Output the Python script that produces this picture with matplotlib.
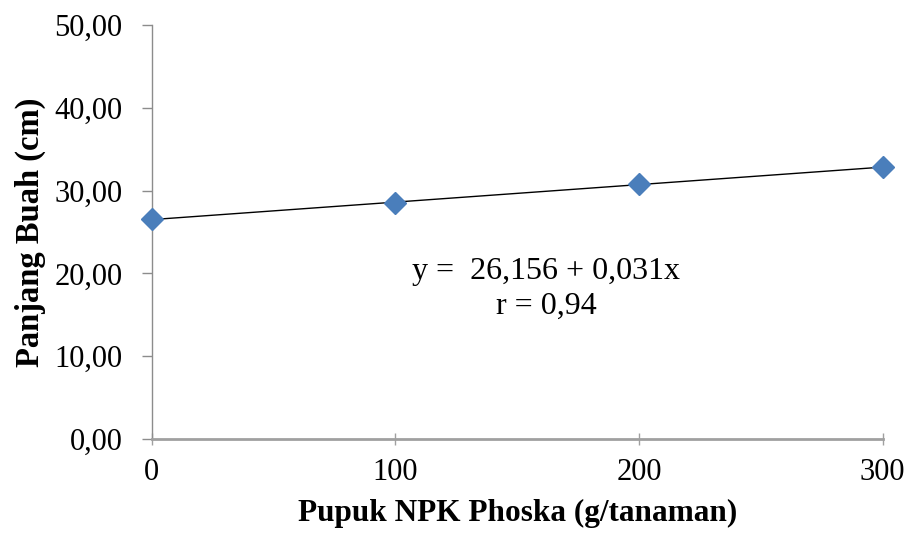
import numpy as np
import matplotlib
matplotlib.use("Agg")
import matplotlib.pyplot as plt
from matplotlib.ticker import FuncFormatter

# data
dosis = [0, 100, 200, 300]
panjang_buah = [26.57, 28.50, 30.80, 32.85]
y_ticks = [0, 10, 20, 30, 40, 50]
x_ticks = [0, 100, 200, 300]
persamaan = "y =  26,156 + 0,031x"
korelasi = "r = 0,94"

plt.rcParams["font.family"] = ["Liberation Serif", "DejaVu Serif"]

fig = plt.figure(figsize=(9.09, 5.36), dpi=100)
ax = fig.add_axes([0.167, 0.181, 0.804, 0.772])

# linear trend (least squares), like the spreadsheet trendline
coef = np.polyfit(dosis, panjang_buah, 1)
xs = np.array([min(dosis), max(dosis)])
ax.plot(xs, np.polyval(coef, xs), color="black", lw=1.0, zorder=2)
ax.plot(dosis, panjang_buah, ls="none", marker="D", ms=11,
        color="#4A7EBB", mec="#4A7EBB", zorder=3, clip_on=False)

ax.set_xlim(0, 300)
ax.set_ylim(0, 50)
ax.set_xticks(x_ticks)
ax.set_yticks(y_ticks)
ax.yaxis.set_major_formatter(FuncFormatter(lambda v, p: f"{v:.2f}".replace(".", ",")))

for s in ["top", "right"]:
    ax.spines[s].set_visible(False)
ax.spines["left"].set_color("#8C8C8C")
ax.spines["left"].set_linewidth(1.0)
ax.spines["bottom"].set_color("#A0A0A0")
ax.spines["bottom"].set_linewidth(2.0)

ax.tick_params(axis="y", direction="out", length=7, width=1, color="#8C8C8C",
               labelsize=22, pad=14)
ax.tick_params(axis="x", direction="inout", length=8, width=1, color="#A0A0A0",
               labelsize=22, pad=10)

ax.set_xlabel("Pupuk NPK Phoska (g/tanaman)", fontsize=22.5, fontweight="bold", labelpad=8)
ax.set_ylabel("Panjang Buah (cm)", fontsize=23.5, fontweight="bold", labelpad=6)

ax.text(0.54, 0.405, persamaan, transform=ax.transAxes, fontsize=23,
        ha="center", va="center")
ax.text(0.54, 0.32, korelasi, transform=ax.transAxes, fontsize=23,
        ha="center", va="center")

fig.savefig("out.png", dpi=100)
